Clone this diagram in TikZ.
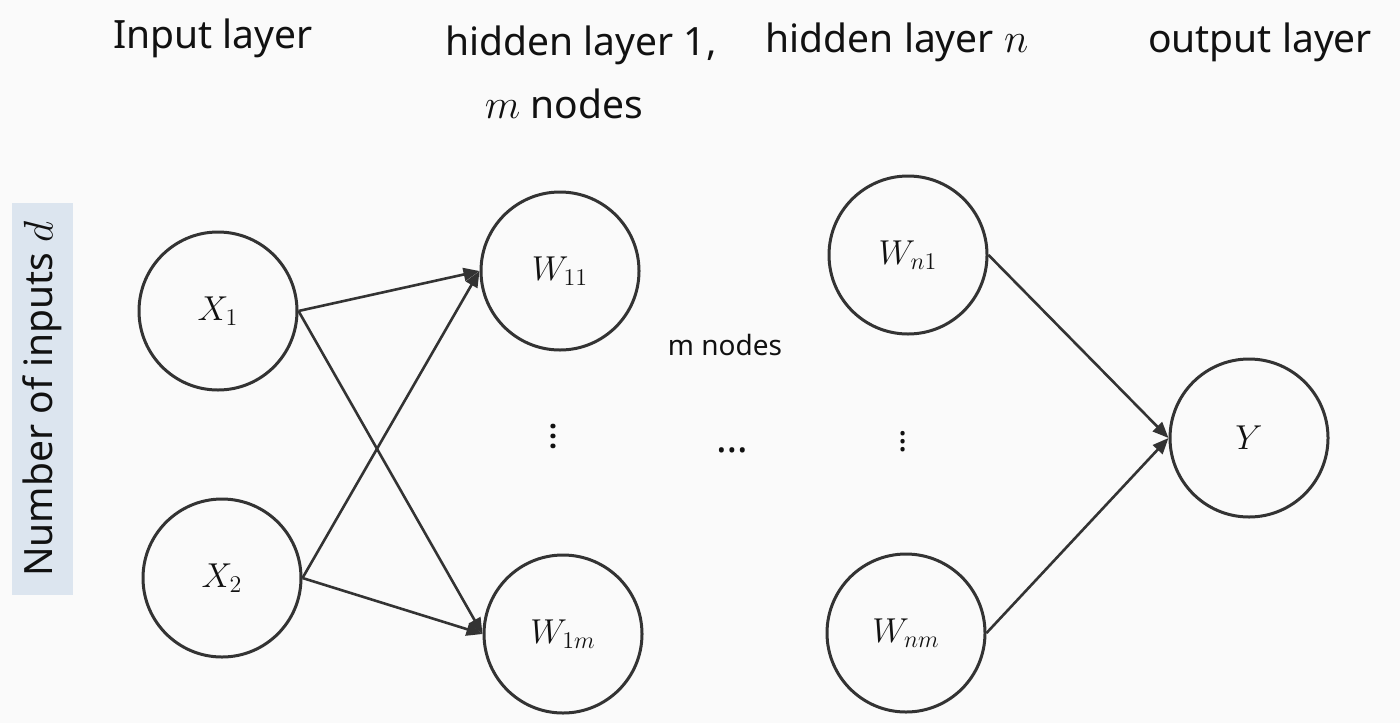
\documentclass[tikz,border=0pt]{standalone}
\usepackage{fontspec}
\setmainfont{Noto Sans}
\usetikzlibrary{arrows.meta}
\definecolor{bg}{HTML}{FAFAFA}
\definecolor{ln}{HTML}{333333}
\definecolor{lbl}{HTML}{DCE5EF}
\definecolor{txt}{HTML}{111111}
\begin{document}
\begin{tikzpicture}[x=0.5pt,y=-0.5pt,
  neuron/.style={circle,draw=ln,line width=1.5pt,minimum size=79pt,inner sep=0pt,
                 font=\fontsize{16.5}{19}\selectfont,text=txt},
  head/.style={font=\fontsize{19.5}{23}\selectfont,anchor=base,text=txt,inner sep=0pt},
  conn/.style={draw=ln,line width=1.3pt,-{Triangle[length=8pt,width=6.5pt]}},
  plain/.style={text=txt,inner sep=0pt}]
\fill[bg] (0,0) rectangle (1400,723);
\useasboundingbox (0,0) rectangle (1400,723);

% headers
\node[head] (h1) at (213,48) {Input layer};
\node[head] (h2) at (581,55) {hidden layer 1,};
\node[head] (h3) at (564,118) {$m$ nodes};
\node[head] (h4) at (897,52) {hidden layer $n$};
\node[head] (h5) at (1260,52) {output layer};

% side label
\node[fill=lbl,rotate=90,minimum width=196pt,minimum height=30.5pt,inner sep=0pt,
      font=\fontsize{19.5}{23}\selectfont,text=txt] (side) at (42.5,399) {Number of inputs $d$};

% neurons
\node[neuron] (x1) at (218,311) {$X_1$};
\node[neuron] (x2) at (222,578) {$X_2$};
\node[neuron] (w11) at (560,271) {$W_{11}$};
\node[neuron] (w1m) at (563,634) {$W_{1m}$};
\node[neuron] (wn1) at (908,255) {$W_{n1}$};
\node[neuron] (wnm) at (906,633) {$W_{nm}$};
\node[neuron] (y) at (1249,438) {$Y$};

% middle texts and dots
\node[plain,font=\fontsize{14}{16}\selectfont] (mn) at (725,345) {m nodes};
\node[plain,font=\fontsize{19}{22}\selectfont,rotate=90] (vd1) at (553,436) {…};
\node[plain,font=\fontsize{20}{22}\selectfont] (hd) at (732,450) {…};
\node[plain,font=\fontsize{17}{19}\selectfont] (vd2) at (903,436) {$\vdots$};

% connectors
\draw[conn] (x1.east) -- (w11.west);
\draw[conn] (x1.east) -- (w1m.west);
\draw[conn] (x2.east) -- (w11.west);
\draw[conn] (x2.east) -- (w1m.west);
\draw[conn] (wn1.east) -- (y.west);
\draw[conn] (wnm.east) -- (y.west);
\end{tikzpicture}
\end{document}
